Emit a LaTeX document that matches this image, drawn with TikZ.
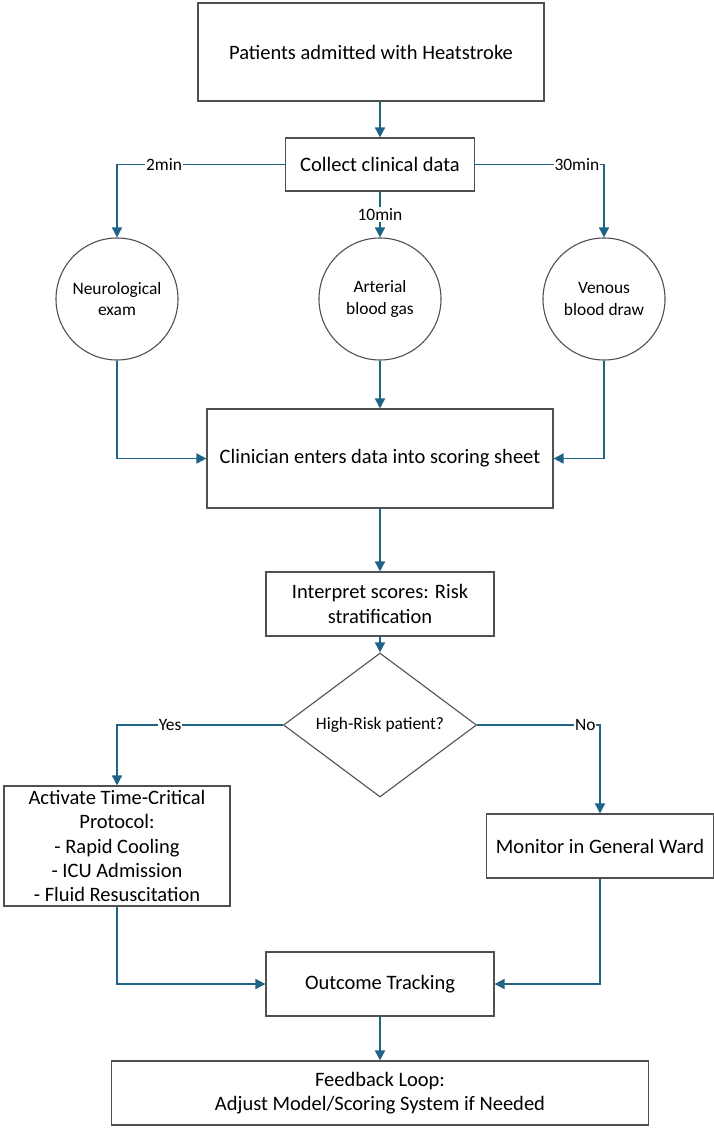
\documentclass[tikz,border=0pt]{standalone}
\usepackage{fontspec}
\setmainfont{Carlito}
\usetikzlibrary{arrows.meta, positioning, calc, shapes.geometric}
\definecolor{flowblue}{RGB}{31,100,135}
\definecolor{boxgray}{RGB}{80,80,80}

\begin{document}
\begin{tikzpicture}[
  x=1pt, y=-1pt,
  block/.style = {draw=boxgray, line width=1.1pt, align=center, inner sep=1pt, font=\fontsize{20.5}{24.4}\selectfont},
  station/.style = {draw=boxgray, line width=1.1pt, circle, minimum size=122pt, inner sep=0pt, align=center, font=\fontsize{17.4}{21.2}\selectfont},
  decision/.style = {draw=boxgray, line width=1.1pt, diamond, aspect=1.34, minimum width=193pt, minimum height=144pt, inner sep=0pt, font=\fontsize{17.4}{21.2}\selectfont},
  arrow/.style = {draw=flowblue, line width=1.6pt, -{Triangle[length=10pt, width=10pt]}},
  tag/.style = {fill=white, inner sep=1pt, font=\fontsize{17.4}{21.2}\selectfont}
]
  \useasboundingbox (0,0) rectangle (714,1129);

  % Admission and data collection
  \node[block, minimum width=346pt, minimum height=98pt] (admit) at (371,52) {Patients admitted with Heatstroke};
  \node[block, minimum width=189pt, minimum height=53pt] (collect) at (380,164.5) {Collect clinical data};

  % Measurements
  \node[station] (neuro) at (117,299) {Neurological\\exam};
  \node[station] (abg) at (380,299) {Arterial\\blood gas};
  \node[station] (venous) at (604,299) {Venous\\blood draw};

  % Scoring
  \node[block, minimum width=346pt, minimum height=99pt] (enter) at (380,458.5) {Clinician enters data into scoring sheet};
  \node[block, minimum width=228pt, minimum height=64pt] (interp) at (380,604) {Interpret scores: Risk\\stratification};
  \node[decision] (risk) at (380,725) {High-Risk patient?};

  % Branches
  \node[block, minimum width=226pt, minimum height=120pt] (protocol) at (117,846) {Activate Time-Critical\\Protocol:\\- Rapid Cooling\\- ICU Admission\\- Fluid Resuscitation};
  \node[block, minimum width=227pt, minimum height=64pt] (ward) at (600,846) {Monitor in General Ward};

  % Follow-up
  \node[block, minimum width=228pt, minimum height=64pt] (outcome) at (380,984) {Outcome Tracking};
  \node[block, minimum width=537pt, minimum height=64pt] (feedback) at (380,1093) {Feedback Loop:\\Adjust Model/Scoring System if Needed};

  % Connectors
  \draw[arrow] (admit.south -| collect.north) -- (collect.north);
  \draw[arrow] (collect.west) -| node[tag, pos=0.36] {2min} (neuro.north);
  \draw[arrow] (collect.south) -- node[tag] {10min} (abg.north);
  \draw[arrow] (collect.east) -| node[tag, pos=0.395] {30min} (venous.north);
  \draw[arrow] (neuro.south) |- (enter.west);
  \draw[arrow] (abg.south) -- (enter.north);
  \draw[arrow] (venous.south) |- (enter.east);
  \draw[arrow] (enter.south) -- (interp.north);
  \draw[arrow] (interp.south) -- (risk.north);
  \draw[arrow] (risk.west) -| node[tag, pos=0.34] {Yes} (protocol.north);
  \draw[arrow] (risk.east) -| node[tag, pos=0.44] {No} (ward.north);
  \draw[arrow] (protocol.south) |- (outcome.west);
  \draw[arrow] (ward.south) |- (outcome.east);
  \draw[arrow] (outcome.south) -- (feedback.north);

\end{tikzpicture}
\end{document}
